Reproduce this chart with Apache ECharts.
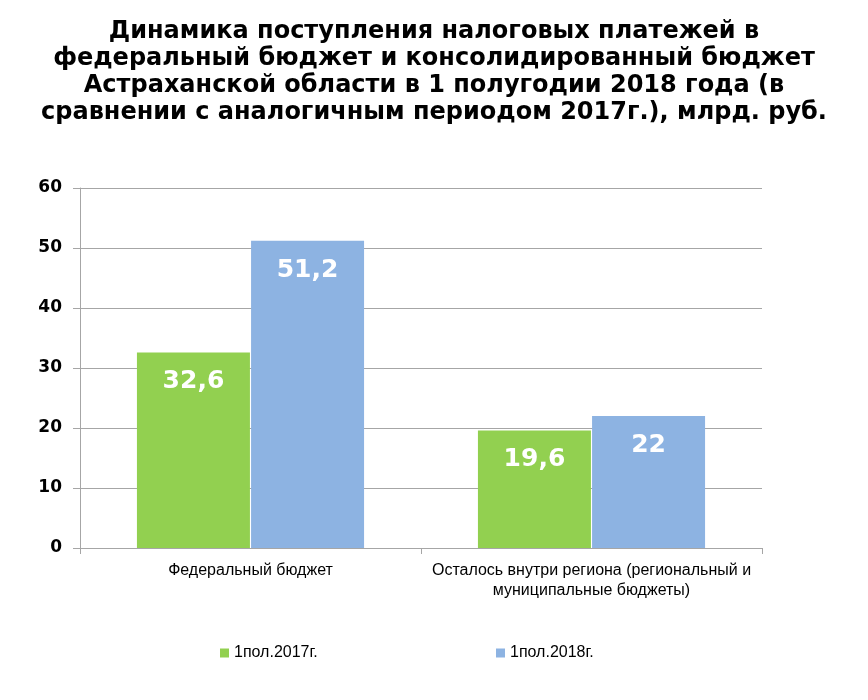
<!DOCTYPE html>
<html>
<head>
<meta charset="utf-8">
<script src="https://cdn.jsdelivr.net/npm/echarts@6/dist/echarts.min.js"></script>
<style>html,body{margin:0;padding:0;background:#fff}#c{width:868px;height:700px}</style>
</head>
<body>
<div id="c"></div>
<script>
var titleText = 'Динамика поступления налоговых платежей в\nфедеральный бюджет и консолидированный бюджет\nАстраханской области в 1 полугодии 2018 года (в\nсравнении с аналогичным периодом 2017г.), млрд. руб.';
var categories = ['Федеральный бюджет', 'Осталось внутри региона (региональный и\nмуниципальные бюджеты)'];
var seriesNames = ['1пол.2017г.', '1пол.2018г.'];
var values2017 = [32.6, 19.6];
var values2018 = [51.2, 22];
var yTicks = [0, 10, 20, 30, 40, 50, 60];

var colors = ['#92D050', '#8DB3E2'];
var chart = echarts.init(document.getElementById('c'));
function fmt(p){ return String(p.value).replace('.', ','); }
var labelCfg = {
  show: true, position: 'insideTop', distance: 17, formatter: fmt,
  color: '#fff', fontFamily: 'DejaVu Sans', fontWeight: 'bold', fontSize: 25
};
var legendText = { fontFamily: 'Liberation Sans', fontSize: 16, color: '#000' };
chart.setOption({
  animation: false,
  title: {
    text: titleText, left: 'center', top: 13,
    textStyle: { fontFamily: 'DejaVu Sans', fontWeight: 'bold', fontSize: 24, lineHeight: 27, color: '#000' }
  },
  legend: [
    { data: [seriesNames[0]], left: 215, top: 640, itemWidth: 9, itemHeight: 9, icon: 'rect', textStyle: legendText },
    { data: [seriesNames[1]], left: 491, top: 640, itemWidth: 9, itemHeight: 9, icon: 'rect', textStyle: legendText }
  ],
  grid: { left: 80, right: 106, top: 188, bottom: 152, containLabel: false },
  xAxis: {
    type: 'category', data: categories,
    axisLine: { lineStyle: { color: '#A6A6A6', width: 1 } },
    axisTick: { show: true, length: 6, lineStyle: { color: '#A6A6A6' } },
    axisLabel: { margin: 13, fontFamily: 'Liberation Sans', fontSize: 16, lineHeight: 20, color: '#000', interval: 0 }
  },
  yAxis: {
    type: 'value', min: yTicks[0], max: yTicks[yTicks.length-1], interval: 10,
    axisLine: { show: true, lineStyle: { color: '#A6A6A6' } },
    axisTick: { show: true, length: 7, lineStyle: { color: '#A6A6A6' } },
    splitLine: { lineStyle: { color: '#A6A6A6' } },
    axisLabel: { margin: 18, fontFamily: 'DejaVu Sans', fontWeight: 'bold', fontSize: 17, color: '#000' }
  },
  series: [
    { name: seriesNames[0], type: 'bar', data: values2017, barWidth: 113, barGap: '1%', itemStyle: { color: colors[0] }, label: labelCfg },
    { name: seriesNames[1], type: 'bar', data: values2018, barWidth: 113, itemStyle: { color: colors[1] }, label: labelCfg }
  ]
});
</script>
</body>
</html>
